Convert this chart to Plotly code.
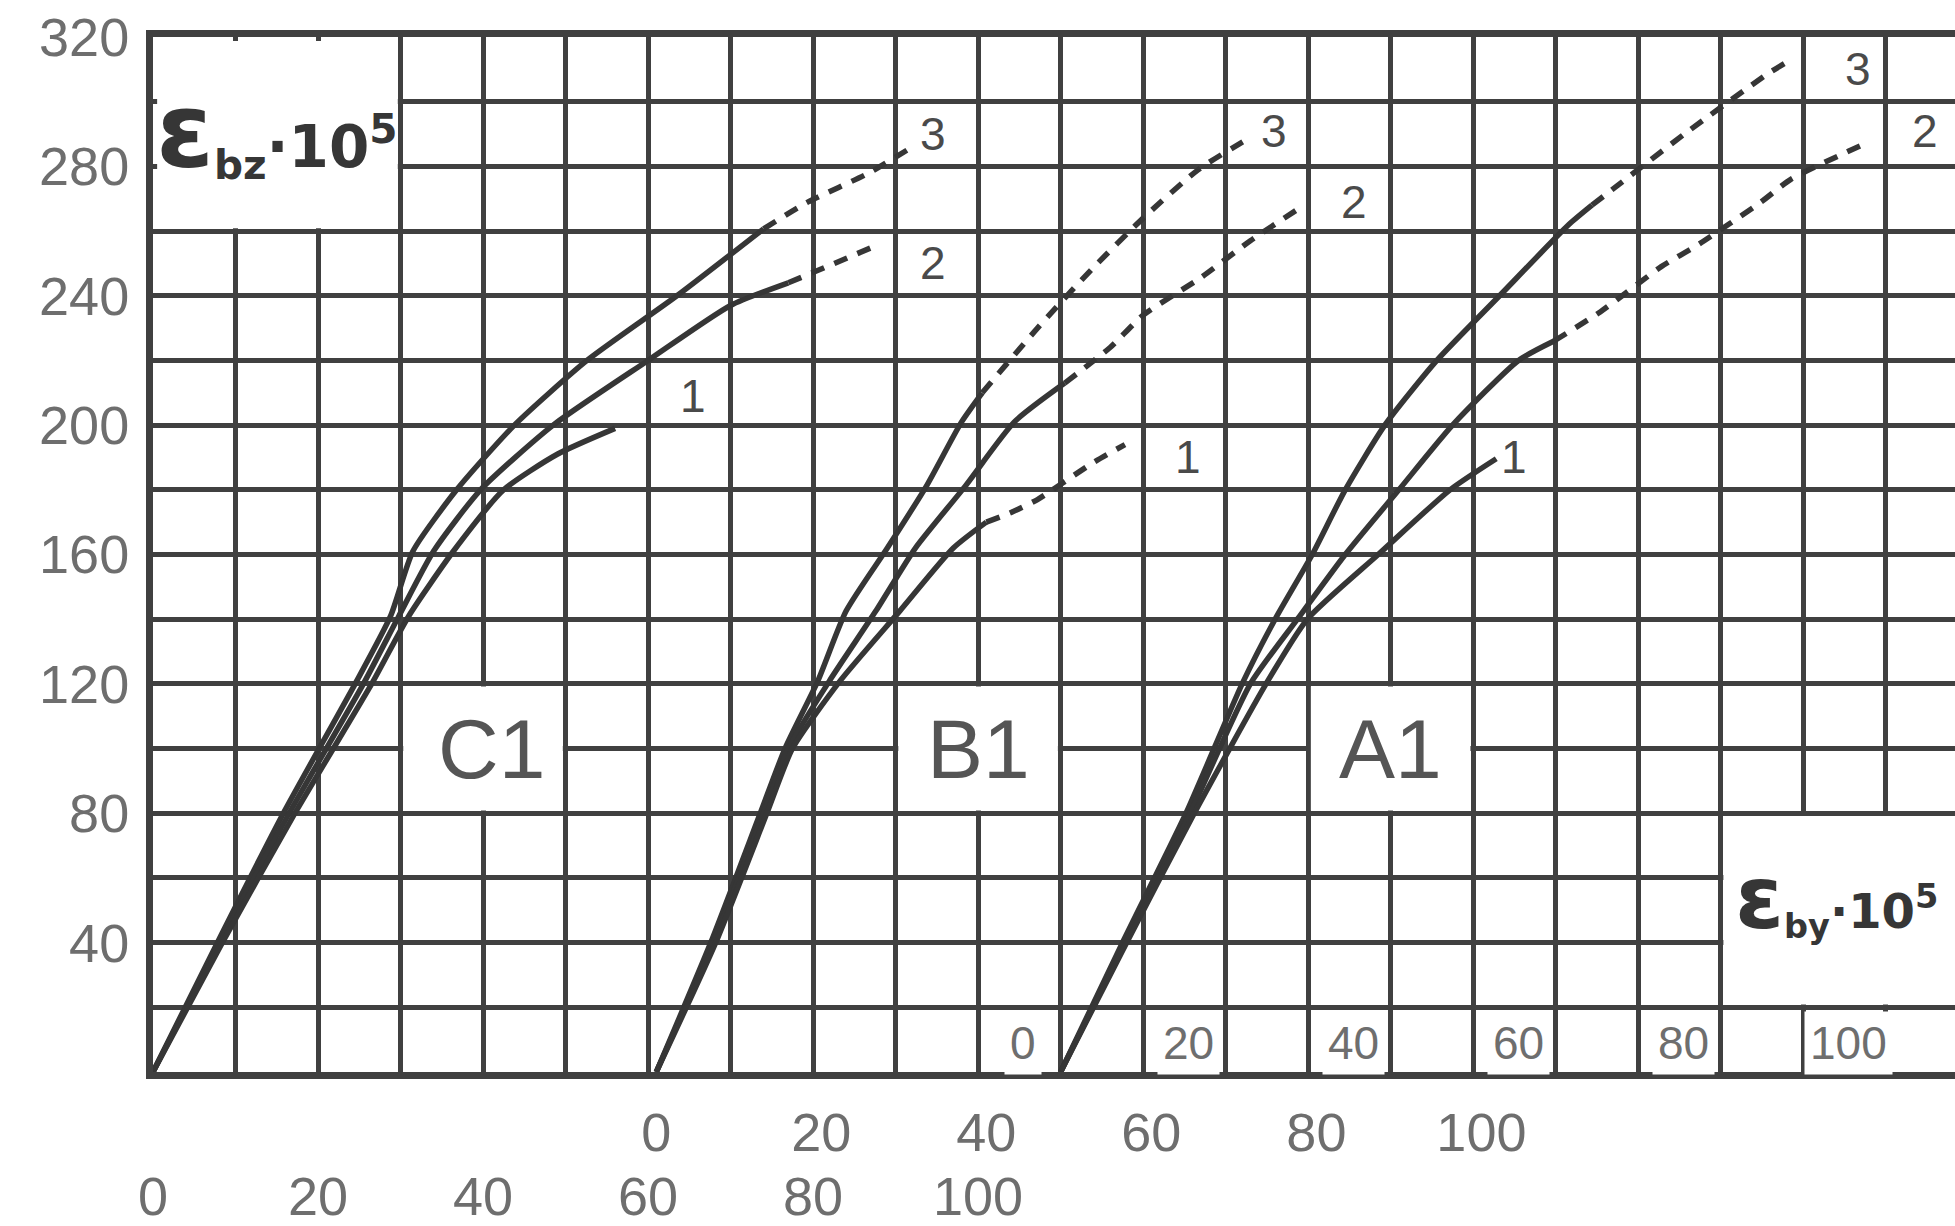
import plotly.graph_objects as go

# ---------------- data ----------------
# tick labels
y_ticks = [40, 80, 120, 160, 200, 240, 280, 320]
c1_ticks = [0, 20, 40, 60, 80, 100]
b1_ticks = [0, 20, 40, 60, 80, 100]
a1_ticks = [0, 20, 40, 60, 80, 100]

# origins of the three diagrams on the common eps_by scale
C1_ORIGIN = 0
B1_ORIGIN = 61
A1_ORIGIN = 110
X_MAX = 218.4

# ---- C1 ----
c1_x3 = [0, 7.8, 15.8, 24.5, 28.8, 31.5, 36.8, 43.8, 52.6, 63.5, 74]
c1_y3 = [0, 40, 80, 120, 141, 161, 180, 200, 220, 240, 260.7]
c1_x3d = [74, 79.4, 86.8, 92]
c1_y3d = [260.7, 269, 278, 286]
c1_x2 = [0, 8.1, 16.5, 25.5, 29.8, 34, 39.7, 48.5, 60, 70, 77]
c1_y2 = [0, 40, 80, 120, 141, 161, 180, 200, 220, 237, 244]
c1_x2d = [77, 81.2, 88.1]
c1_y2d = [244, 248.5, 256]
c1_x1 = [0, 8.4, 17.2, 26.5, 31, 36.4, 42.5, 49, 56]
c1_y1 = [0, 40, 80, 120, 141, 161, 180, 191, 199]

# ---- B1 ----
b1_x3 = [0, 6.6, 12.6, 15.6, 19.6, 23, 28, 32.7, 37, 39.5]
b1_y3 = [0, 40, 80, 100, 121, 142.5, 162, 181, 201, 210]
b1_x3d = [39.5, 46.2, 52.7, 59, 65.7, 72]
b1_y3d = [210, 230, 248, 264, 279, 289]
b1_x2 = [0, 6.9, 13, 16, 21, 26.6, 31.4, 37.4, 43.4, 49.5]
b1_y2 = [0, 40, 80, 100, 121, 142.5, 162, 181, 201, 213]
b1_x2d = [49.5, 55, 59, 66, 72, 78.5]
b1_y2d = [213, 224, 234, 245.6, 257, 268]
b1_x1 = [0, 7.2, 13.4, 16.5, 22.3, 29.5, 36, 40]
b1_y1 = [0, 40, 80, 100, 121, 142.5, 162, 170]
b1_x1d = [40, 43, 46.2, 52.7, 56.8]
b1_y1d = [170, 173, 177, 188, 194]

# ---- A1 ----
a1_x3 = [0, 7.5, 15.2, 22, 26, 30.5, 34.5, 39.3, 45.6, 53.2, 61.6, 64.4]
a1_y3 = [0, 40, 80, 120, 140, 160, 180, 200, 220, 240, 262, 268]
a1_x3d = [64.4, 67.2, 75.6, 85.7, 88.5]
a1_y3d = [268, 273.5, 290, 308.6, 313]
a1_x2 = [0, 7.8, 15.7, 23, 28.7, 34.5, 41, 47.5, 55.5, 59.8]
a1_y2 = [0, 40, 80, 120, 140, 160, 180, 200, 220, 226]
a1_x2d = [59.8, 65.4, 72.8, 77.4, 84.9, 88.5, 97.9]
a1_y2d = [226, 235, 249, 256, 269, 276, 287.5]
a1_x1 = [0, 8, 16.2, 24.9, 29.9, 38.5, 47.2, 52.8]
a1_y1 = [0, 40, 80, 120, 140, 160, 180, 189.6]

# curve numbers (label text, x on own diagram scale, y)
c1_labels = [("3", 94.5, 290), ("2", 94.5, 250), ("1", 65.5, 209)]
b1_labels = [("3", 74.9, 291), ("2", 84.5, 269), ("1", 64.5, 190)]
a1_labels = [("3", 96.7, 310), ("2", 104.8, 291), ("1", 55, 190)]

# diagram names (text, x on common scale, y)
diagram_names = [("C1", 41, 100), ("B1", 100, 100), ("A1", 150, 100)]

# blank (white) label fields on the grid: x0, x1, y0, y1 on common scale
blank_fields = [(0, 30, 260, 320), (30, 50, 80, 120), (90, 110, 80, 120),
                (140, 160, 80, 120), (190, X_MAX, 20, 80)]

# ---------------- styling ----------------
GRID = '#404040'
INK = '#363636'
LABEL = '#6e6e6e'
FONT = 'Liberation Sans, Arial, sans-serif'

fig = go.Figure()

solid = dict(color=INK, width=5.5, shape='spline', smoothing=0.6)
dashed = dict(color=INK, width=5.5, dash='14px,11px', shape='spline', smoothing=0.6)

series = [
    ('x2', c1_x3, c1_y3, solid), ('x2', c1_x3d, c1_y3d, dashed),
    ('x2', c1_x2, c1_y2, solid), ('x2', c1_x2d, c1_y2d, dashed),
    ('x2', c1_x1, c1_y1, solid),
    ('x3', b1_x3, b1_y3, solid), ('x3', b1_x3d, b1_y3d, dashed),
    ('x3', b1_x2, b1_y2, solid), ('x3', b1_x2d, b1_y2d, dashed),
    ('x3', b1_x1, b1_y1, solid), ('x3', b1_x1d, b1_y1d, dashed),
    ('x4', a1_x3, a1_y3, solid), ('x4', a1_x3d, a1_y3d, dashed),
    ('x4', a1_x2, a1_y2, solid), ('x4', a1_x2d, a1_y2d, dashed),
    ('x4', a1_x1, a1_y1, solid),
]
for ax, xs, ys, ln in series:
    fig.add_trace(go.Scatter(x=xs, y=ys, xaxis=ax, yaxis='y', mode='lines',
                             line=ln, showlegend=False, hoverinfo='skip'))

# white label fields
for x0, x1, y0, y1 in blank_fields:
    fig.add_shape(type='rect', xref='x', yref='y',
                  x0=x0 + (0.5 if x0 == 0 else 0.33), x1=x1 - (0 if x1 == X_MAX else 0.33),
                  y0=y0 + 0.85, y1=y1 - (1.2 if y1 == 320 else 0.85),
                  fillcolor='white', line=dict(width=0), layer='above')

annotations = []
for txt, xx, yy in diagram_names:
    annotations.append(dict(text=txt, x=xx, y=yy, xref='x', yref='y', showarrow=False,
                            font=dict(family=FONT, size=84, color='#555555')))
for ref, labs in (('x2', c1_labels), ('x3', b1_labels), ('x4', a1_labels)):
    for txt, xx, yy in labs:
        annotations.append(dict(text=txt, x=xx, y=yy, xref=ref, yref='y', showarrow=False,
                                font=dict(family=FONT, size=46, color='#4a4a4a')))
# A1 scale: labels printed inside the bottom row of the grid, in white fields
for v in a1_ticks:
    annotations.append(dict(text=str(v), x=v - 4.5, y=9, xref='x4', yref='y', showarrow=False,
                            bgcolor='white', borderpad=5,
                            font=dict(family=FONT, size=46, color=LABEL)))
# axis titles
annotations.append(dict(text='<b><span style="font-size:104px">ε</span><sub>bz</sub>·10<sup>5</sup></b>',
                        x=15, y=291, xref='x', yref='y', showarrow=False,
                        font=dict(family='DejaVu Sans, sans-serif', size=58, color=INK)))
annotations.append(dict(text='<b><span style="font-size:88px">ε</span><sub>by</sub>·10<sup>5</sup></b>',
                        x=204, y=54, xref='x', yref='y', showarrow=False,
                        font=dict(family='DejaVu Sans, sans-serif', size=48, color=INK)))

fig.update_layout(
    width=1955, height=1226,
    margin=dict(l=153, r=0, t=37, b=148),
    paper_bgcolor='white', plot_bgcolor='white',
    showlegend=False,
    annotations=annotations,
    xaxis=dict(range=[0, X_MAX], tick0=0, dtick=10, showgrid=True, gridcolor=GRID,
               gridwidth=5, showticklabels=False, ticks='', zeroline=False,
               showline=True, linecolor=GRID, linewidth=7, mirror=True),
    xaxis2=dict(overlaying='x', anchor='y', side='bottom',
                range=[0 - C1_ORIGIN, X_MAX - C1_ORIGIN],
                tickmode='array', tickvals=c1_ticks, ticktext=[str(v) for v in c1_ticks],
                showgrid=False, zeroline=False, showline=False, ticks='',
                ticklabelstandoff=88,
                tickfont=dict(family=FONT, size=54, color=LABEL)),
    xaxis3=dict(overlaying='x', anchor='y', side='bottom',
                range=[0 - B1_ORIGIN, X_MAX - B1_ORIGIN],
                tickmode='array', tickvals=b1_ticks, ticktext=[str(v) for v in b1_ticks],
                showgrid=False, zeroline=False, showline=False, ticks='',
                ticklabelstandoff=24,
                tickfont=dict(family=FONT, size=54, color=LABEL)),
    xaxis4=dict(overlaying='x', anchor='y', range=[0 - A1_ORIGIN, X_MAX - A1_ORIGIN],
                visible=False),
    yaxis=dict(range=[0, 320], tickmode='array', tickvals=y_ticks,
               ticktext=[str(v) for v in y_ticks],
               showgrid=True, gridcolor=GRID, gridwidth=5,
               minor=dict(tick0=0, dtick=20, showgrid=True, gridcolor=GRID, gridwidth=5),
               zeroline=False, showline=True, linecolor=GRID, linewidth=7,
               ticks='', ticklabelstandoff=6,
               tickfont=dict(family=FONT, size=54, color=LABEL)),
)

fig.write_html("out.html", config={'displayModeBar': False},
               post_script="document.body.style.margin='0';")
